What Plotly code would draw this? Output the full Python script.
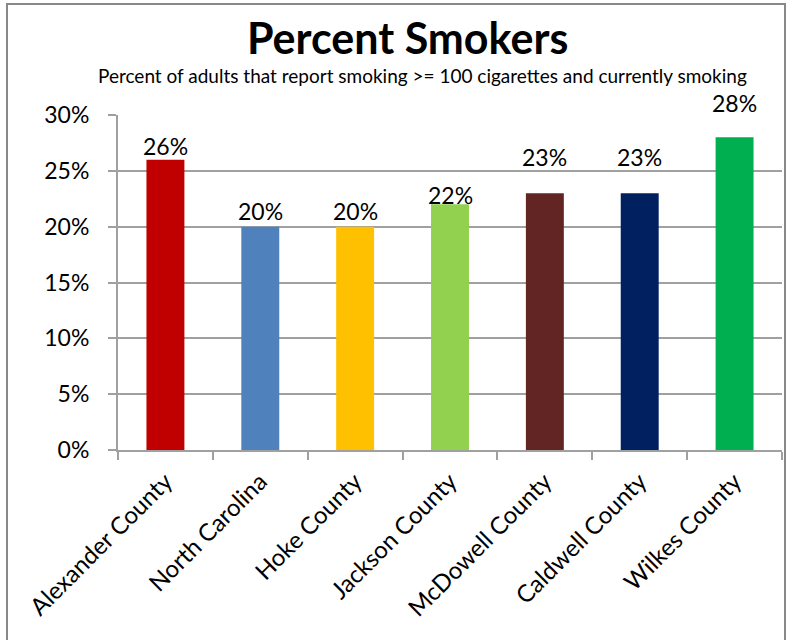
import plotly.graph_objects as go

categories = ["Alexander County", "North Carolina", "Hoke County", "Jackson County",
              "McDowell County", "Caldwell County", "Wilkes County"]
values = [0.26, 0.20, 0.20, 0.22, 0.23, 0.23, 0.28]
labels = ["26%", "20%", "20%", "22%", "23%", "23%", "28%"]
colors = ["#C00000", "#4F81BD", "#FFC000", "#92D050", "#632523", "#002060", "#00B050"]
y_ticks = [0, 0.05, 0.10, 0.15, 0.20, 0.25, 0.30]
y_tick_text = ["0%", "5%", "10%", "15%", "20%", "25%", "30%"]
# pixel gap between each bar top and its value label (as placed in the original)
label_gaps = [5, 7, 7, 0, 27, 27, 25]

FONT = "Lato, Carlito, Calibri, sans-serif"
GRID = "#A0A0A0"
W, H = 802, 640


def px(x):
    return x / W


def py(y):
    return 1 - y / H


fig = go.Figure(go.Bar(
    x=categories, y=values, marker=dict(color=colors, line=dict(width=0)),
    width=0.4, hoverinfo="skip",
))

for cat, val, lab, gap in zip(categories, values, labels, label_gaps):
    fig.add_annotation(x=cat, y=val, text=lab, showarrow=False, xanchor="center",
                       yanchor="bottom", yshift=gap - 6, borderpad=0,
                       font=dict(family=FONT, size=23, color="black"))

fig.update_layout(
    width=W, height=H,
    margin=dict(l=0, r=0, t=0, b=0, pad=0),
    paper_bgcolor="white", plot_bgcolor="white",
    showlegend=False,
    font=dict(family=FONT, color="black"),
)
fig.add_annotation(text="<b>Percent Smokers</b>", xref="paper", yref="paper",
                   x=px(407), y=py(38), xanchor="center", yanchor="middle",
                   showarrow=False, font=dict(family=FONT, size=43, color="black"))
fig.add_annotation(text="Percent of adults that report smoking >= 100 cigarettes and currently smoking",
                   xref="paper", yref="paper",
                   x=px(422), y=py(75), xanchor="center", yanchor="middle",
                   showarrow=False, font=dict(family=FONT, size=19, color="black"))

fig.update_yaxes(range=[0, 0.30], tickvals=y_ticks, ticktext=y_tick_text,
                 domain=[py(450), py(115)],
                 showgrid=True, gridcolor=GRID, gridwidth=2,
                 showline=True, linecolor=GRID, linewidth=2,
                 ticks="outside", ticklen=8, tickcolor=GRID, tickwidth=2,
                 ticklabelstandoff=14, automargin=False,
                 tickfont=dict(family=FONT, size=23, color="black"), zeroline=False)
fig.update_xaxes(domain=[px(118), px(782)],
                 showline=True, linecolor=GRID, linewidth=2,
                 ticks="outside", tickson="boundaries", ticklen=8, tickcolor=GRID, tickwidth=2,
                 tickangle=-45, ticklabelstandoff=6, automargin=False,
                 tickfont=dict(family=FONT, size=24, color="black"))

# chart frame (top, left, right edges)
fig.add_shape(type="line", xref="paper", yref="paper",
              x0=px(6), x1=px(786), y0=py(4), y1=py(4),
              line=dict(color="#888888", width=2), layer="above")
fig.add_shape(type="line", xref="paper", yref="paper",
              x0=px(7), x1=px(7), y0=py(4), y1=0,
              line=dict(color="#888888", width=2), layer="above")
fig.add_shape(type="line", xref="paper", yref="paper",
              x0=px(785), x1=px(785), y0=py(4), y1=0,
              line=dict(color="#888888", width=2), layer="above")

fig.write_html("out.html", config={"displayModeBar": False},
               post_script="document.body.style.margin='0';document.body.style.overflow='hidden';window.scrollTo(0,0);")
